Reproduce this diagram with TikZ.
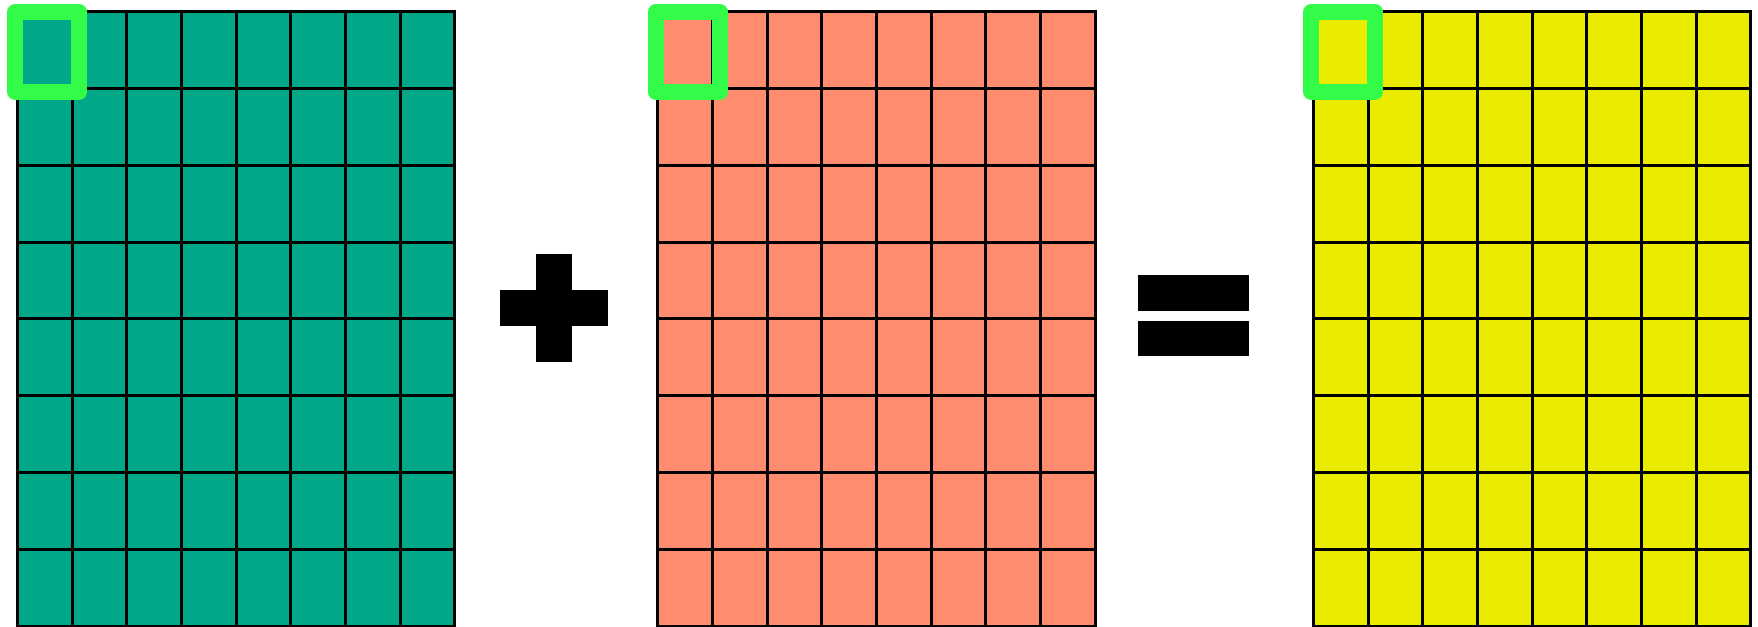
\documentclass[tikz,border=0pt]{standalone}
\definecolor{gridA}{RGB}{0,168,136}
\definecolor{gridB}{RGB}{255,140,110}
\definecolor{gridC}{RGB}{235,235,0}
\definecolor{hl}{RGB}{51,252,72}
\begin{document}
\begin{tikzpicture}[x=1bp,y=-1bp,
  gridline/.style={line width=3bp, black},
  hlbox/.style={draw=hl, line width=16bp, line join=round},
  sign/.style={fill=black}]
\useasboundingbox (0,0) rectangle (1758,627);
\foreach \x/\c in {17.3/gridA, 657.7/gridB, 1313.3/gridC} {
  \fill[\c] (\x,11.7) rectangle ++(437.6,614.4);
  \foreach \i in {1,...,7} {
    \draw[gridline] (\x+\i*54.7,11.7) -- (\x+\i*54.7,626.1);
    \draw[gridline] (\x,11.7+\i*76.8) -- (\x+437.6,11.7+\i*76.8);
  }
  \draw[gridline] (\x,11.7) rectangle (\x+437.6,626.1);
  \draw[hlbox] (\x-2.1,12) rectangle (\x+62,91.7);
}
% plus
\fill[sign] (536,254) rectangle (571.7,361.7);
\fill[sign] (500,290) rectangle (607.7,325.7);
% equals
\fill[sign] (1138,275.3) rectangle (1249.3,311);
\fill[sign] (1138,320.7) rectangle (1249.3,356.3);
\end{tikzpicture}
\end{document}
